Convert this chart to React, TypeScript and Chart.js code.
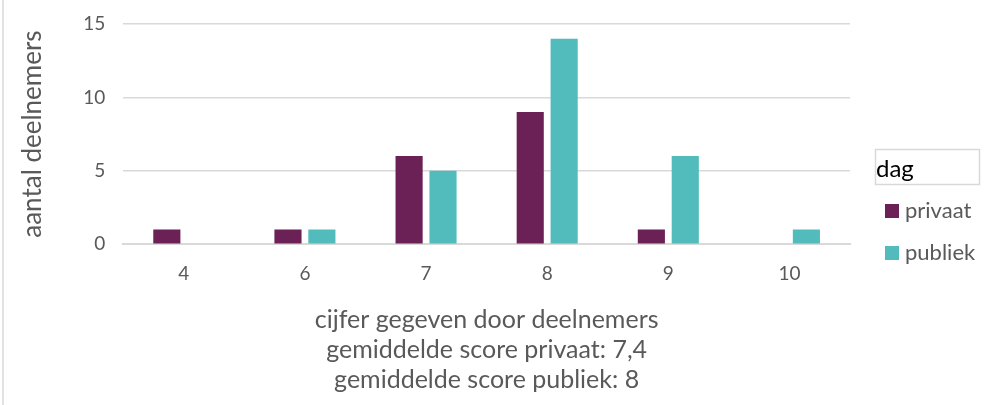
import React, { useEffect, useRef } from "react";
import { Chart, registerables } from "chart.js";

Chart.register(...registerables);

const categories = ["4", "6", "7", "8", "9", "10"];
const privaat = [1, 1, 6, 9, 1, 0];
const publiek = [0, 1, 5, 14, 6, 1];
const seriesNames = ["privaat", "publiek"];
const legendTitle = "dag";
const yTitle = "aantal deelnemers";
const xTitle = [
  "cijfer gegeven door deelnemers",
  "gemiddelde score privaat: 7,4",
  "gemiddelde score publiek: 8",
];
const colors = ["#6b2155", "#52bcbc"];
const FONT = "Lato, 'Open Sans', sans-serif";
const TEXT = "#595959";

const legendPlugin = {
  id: "customLegend",
  afterDraw(chart: any) {
    const ctx = chart.ctx;
    ctx.save();
    ctx.strokeStyle = "#d9d9d9";
    ctx.lineWidth = 1.5;
    ctx.beginPath();
    ctx.moveTo(3, 0);
    ctx.lineTo(3, 405);
    ctx.stroke();
    ctx.strokeRect(875.5, 149.5, 104, 35);
    ctx.fillStyle = "#000000";
    ctx.font = `24px ${FONT}`;
    ctx.textBaseline = "middle";
    ctx.textAlign = "left";
    ctx.fillText(legendTitle, 876, 169);
    const ys = [211, 253];
    seriesNames.forEach((n, i) => {
      ctx.fillStyle = colors[i];
      ctx.fillRect(885, ys[i] - 7, 14, 14);
      ctx.fillStyle = TEXT;
      ctx.font = `22px ${FONT}`;
      ctx.fillText(n, 905, ys[i]);
    });
    ctx.restore();
  },
};

export default function App() {
  const ref = useRef<HTMLCanvasElement>(null);
  useEffect(() => {
    document.body.style.margin = "0";
    const chart = new Chart(ref.current!, {
      type: "bar",
      data: {
        labels: categories,
        datasets: [
          { label: seriesNames[0], data: privaat, backgroundColor: colors[0] },
          { label: seriesNames[1], data: publiek, backgroundColor: colors[1] },
        ],
      },
      options: {
        animation: false,
        responsive: false,
        maintainAspectRatio: false,
        layout: { padding: { left: 17, right: 148, top: 24, bottom: 10 } },
        datasets: { bar: { categoryPercentage: 0.56, barPercentage: 0.8 } },
        plugins: { legend: { display: false }, tooltip: { enabled: false } },
        scales: {
          x: {
            grid: { display: false, drawTicks: false },
            border: { display: true, color: "#d9d9d9", width: 2 },
            ticks: { color: TEXT, font: { family: FONT, size: 19 }, padding: 18 },
            title: {
              display: true,
              text: xTitle,
              color: TEXT,
              font: { family: FONT, size: 25, lineHeight: 1.2 },
              padding: { top: 2, bottom: 0 },
            },
          },
          y: {
            min: 0,
            max: 15,
            afterFit: (s: any) => {
              s.paddingTop = 0;
              s.paddingBottom = 0;
            },
            ticks: { stepSize: 5, color: TEXT, font: { family: FONT, size: 19 }, padding: 18 },
            grid: { color: "#d9d9d9", lineWidth: 1.5, drawTicks: false },
            border: { display: false },
            title: {
              display: true,
              text: yTitle,
              color: TEXT,
              font: { family: FONT, size: 26 },
              padding: { top: 0, bottom: 17 },
            },
          },
        },
      },
      plugins: [legendPlugin],
    });
    return () => chart.destroy();
  }, []);
  return (
    <div style={{ width: 998, height: 405, background: "#fff" }}>
      <canvas ref={ref} width={998} height={405} />
    </div>
  );
}
